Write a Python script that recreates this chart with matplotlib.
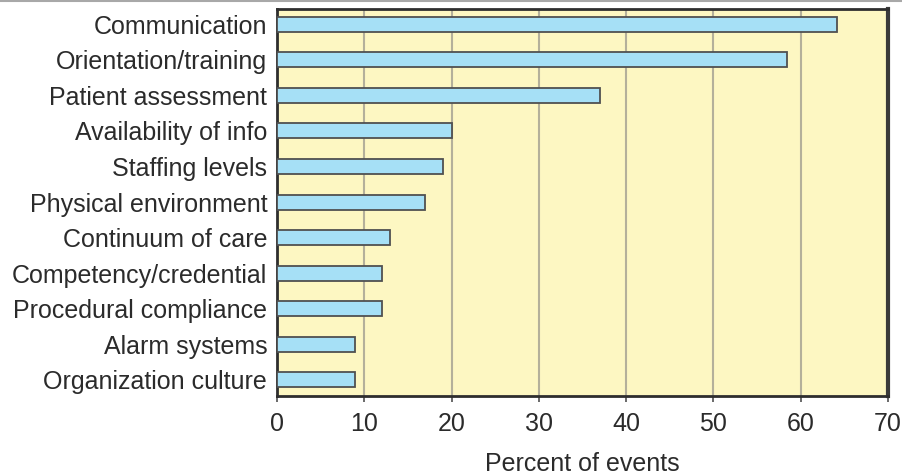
import matplotlib
matplotlib.use("Agg")
import matplotlib.pyplot as plt
from matplotlib.lines import Line2D

categories = [
    "Communication",
    "Orientation/training",
    "Patient assessment",
    "Availability of info",
    "Staffing levels",
    "Physical environment",
    "Continuum of care",
    "Competency/credential",
    "Procedural compliance",
    "Alarm systems",
    "Organization culture",
]
percent = [64.1, 58.4, 37, 20, 19, 17, 13, 12, 12, 9, 9]
x_ticks = [0, 10, 20, 30, 40, 50, 60, 70]

plt.rcParams["font.family"] = ["Liberation Sans", "DejaVu Sans"]

fig = plt.figure(figsize=(9.02, 4.74), dpi=100)
ax = fig.add_axes([0.307, 0.165, 0.6775, 0.816])

ax.set_facecolor("#fdf7c2")
positions = list(range(len(categories)))
ax.barh(positions, percent, height=0.42, color="#a6e0f6",
        edgecolor="#505050", linewidth=1.3, zorder=3)

ax.set_xlim(0, 70)
ax.set_ylim(10.45, -0.43)
ax.set_xticks(x_ticks)
ax.set_xticklabels([str(t) for t in x_ticks])
ax.set_yticks(positions)
ax.set_yticklabels(categories)

ax.xaxis.grid(True, color="#b4b09a", linewidth=1.5, zorder=1)
ax.yaxis.grid(False)

ax.tick_params(axis="y", length=0, pad=7, labelsize=18, labelcolor="#2b2b2b")
ax.tick_params(axis="x", length=4, width=1.2, color="#505050", pad=8,
               labelsize=18, labelcolor="#2b2b2b")

for side in ["left", "bottom", "top"]:
    ax.spines[side].set_color("#2e2e2e")
    ax.spines[side].set_linewidth(2.0)
ax.spines["right"].set_color("#3a3a3a")
ax.spines["right"].set_linewidth(3.0)

ax.set_xlabel("Percent of events", fontsize=18, color="#2b2b2b", labelpad=11)

# thin frame line along the top of the figure
fig.add_artist(Line2D([0, 1], [0.998, 0.998], transform=fig.transFigure,
                      color="#a8a8a8", linewidth=1.5))

fig.savefig("out.png", dpi=100, facecolor="white")
